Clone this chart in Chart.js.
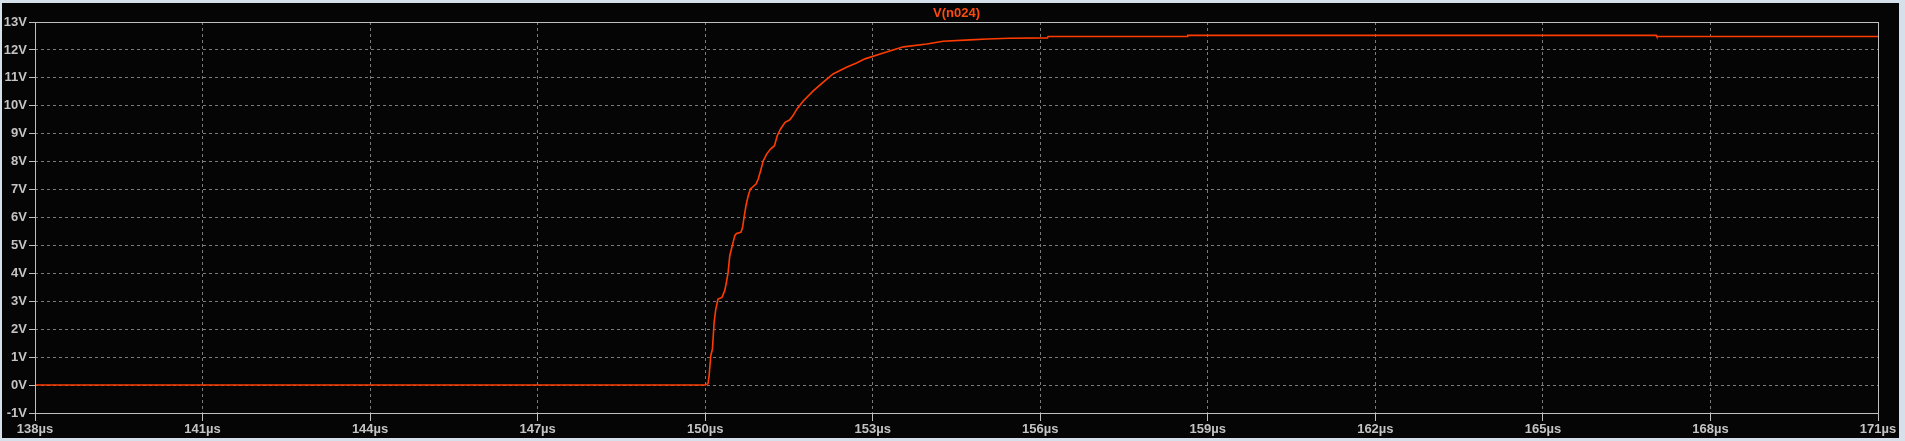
<!DOCTYPE html>
<html>
<head>
<meta charset="utf-8">
<script src="https://cdn.jsdelivr.net/npm/chart.js@4.4.1/dist/chart.umd.min.js"></script>
<style>
    html, body { margin: 0; padding: 0; background: #d6e0ea; overflow: hidden; }
    #grafico { display: block; }
</style>
</head>
<body>
<canvas id="grafico" width="1905" height="441"></canvas>
<script>
// tempo em µs e tensão em V de V(n024)
const tempo = [138, 150.0, 150.05, 150.07, 150.10, 150.13, 150.16, 150.19, 150.23, 150.30, 150.35, 150.38,
    150.41, 150.44, 150.47, 150.50, 150.53, 150.56, 150.64, 150.67, 150.70, 150.73, 150.77, 150.81,
    150.91, 150.95, 151.00, 151.04, 151.10, 151.17, 151.24, 151.29, 151.35, 151.43, 151.51, 151.57,
    151.64, 151.76, 151.94, 152.11, 152.29, 152.53, 152.71, 152.86, 153.19, 153.55, 153.97, 154.26,
    154.74, 155.05, 155.44, 156.13, 156.14, 158.63, 158.64, 167.03, 167.04, 171];
const tensao = [0, 0, 0.05, 0.33, 1.05, 1.29, 2.25, 2.72, 3.08, 3.14, 3.38, 3.68,
    4.03, 4.63, 4.87, 5.11, 5.35, 5.43, 5.47, 5.65, 6.06, 6.42, 6.78, 7.02,
    7.20, 7.38, 7.73, 8.03, 8.27, 8.45, 8.57, 8.93, 9.17, 9.41, 9.49, 9.64,
    9.88, 10.18, 10.54, 10.84, 11.14, 11.38, 11.53, 11.68, 11.89, 12.11, 12.21, 12.31,
    12.36, 12.39, 12.42, 12.43, 12.48, 12.48, 12.52, 12.52, 12.48, 12.48];

const nomeSinal = 'V(n024)';
const ticksX = [138, 141, 144, 147, 150, 153, 156, 159, 162, 165, 168, 171];
const ticksY = [-1, 0, 1, 2, 3, 4, 5, 6, 7, 8, 9, 10, 11, 12, 13];

const corTraco = '#ff3c00';
const corTexto = '#c4c4c4';
const fonteEixo = { family: 'Liberation Sans, Arial, sans-serif', size: 13, weight: 'bold' };

const pontos = tempo.map((t, i) => ({ x: t, y: tensao[i] }));

// fundo preto e moldura estilo LTspice
const fundoPlugin = {
    id: 'fundo',
    beforeDraw(chart) {
        const ctx = chart.ctx;
        ctx.save();
        ctx.fillStyle = '#d6e0ea';
        ctx.fillRect(0, 0, chart.width, chart.height);
        ctx.fillStyle = '#050505';
        ctx.fillRect(2, 3, 1897, 435);
        ctx.restore();
    },
    afterDraw(chart) {
        const ctx = chart.ctx;
        const a = chart.chartArea;
        ctx.save();
        ctx.strokeStyle = '#c0c0c0';
        ctx.lineWidth = 1;
        ctx.setLineDash([]);
        ctx.strokeRect(Math.round(a.left) + 0.5, Math.round(a.top) + 0.5,
            Math.round(a.right - a.left), Math.round(a.bottom - a.top));
        ctx.fillStyle = '#ff4a10';
        ctx.font = 'bold 13px Liberation Sans, Arial, sans-serif';
        ctx.textAlign = 'center';
        ctx.textBaseline = 'middle';
        ctx.fillText(nomeSinal, (a.left + a.right) / 2, 13);
        ctx.restore();
    }
};

const canva = document.getElementById('grafico').getContext('2d');
const grafico = new Chart(canva, {
    type: 'line',
    data: {
        datasets: [{
            label: nomeSinal,
            data: pontos,
            borderColor: corTraco,
            borderWidth: 1.6,
            pointRadius: 0,
            tension: 0,
            fill: false
        }]
    },
    options: {
        responsive: false,
        animation: false,
        events: [],
        layout: { padding: { top: 22, right: 27, left: 0, bottom: 0 } },
        plugins: {
            legend: { display: false },
            tooltip: { enabled: false }
        },
        scales: {
            x: {
                type: 'linear',
                min: 138,
                max: 171,
                afterBuildTicks: (eixo) => { eixo.ticks = ticksX.map(v => ({ value: v })); },
                afterFit: (eixo) => { eixo.height = 28; },
                ticks: {
                    color: corTexto,
                    font: fonteEixo,
                    padding: 1,
                    maxRotation: 0,
                    autoSkip: false,
                    callback: (v) => v + 'µs'
                },
                grid: {
                    color: '#7a7a7a',
                    lineWidth: 1,
                    tickLength: 8,
                    tickColor: '#c0c0c0',
                    tickBorderDash: []
                },
                border: { display: false, dash: [3, 3] }
            },
            y: {
                min: -1,
                max: 13,
                afterBuildTicks: (eixo) => { eixo.ticks = ticksY.map(v => ({ value: v })); },
                afterFit: (eixo) => { eixo.width = 35; },
                ticks: {
                    color: corTexto,
                    font: fonteEixo,
                    padding: 2,
                    autoSkip: false,
                    callback: (v) => v + 'V'
                },
                grid: {
                    color: '#7a7a7a',
                    lineWidth: 1,
                    tickLength: 6,
                    tickColor: '#c0c0c0',
                    tickBorderDash: []
                },
                border: { display: false, dash: [3, 3] }
            }
        }
    },
    plugins: [fundoPlugin]
});
</script>
</body>
</html>
